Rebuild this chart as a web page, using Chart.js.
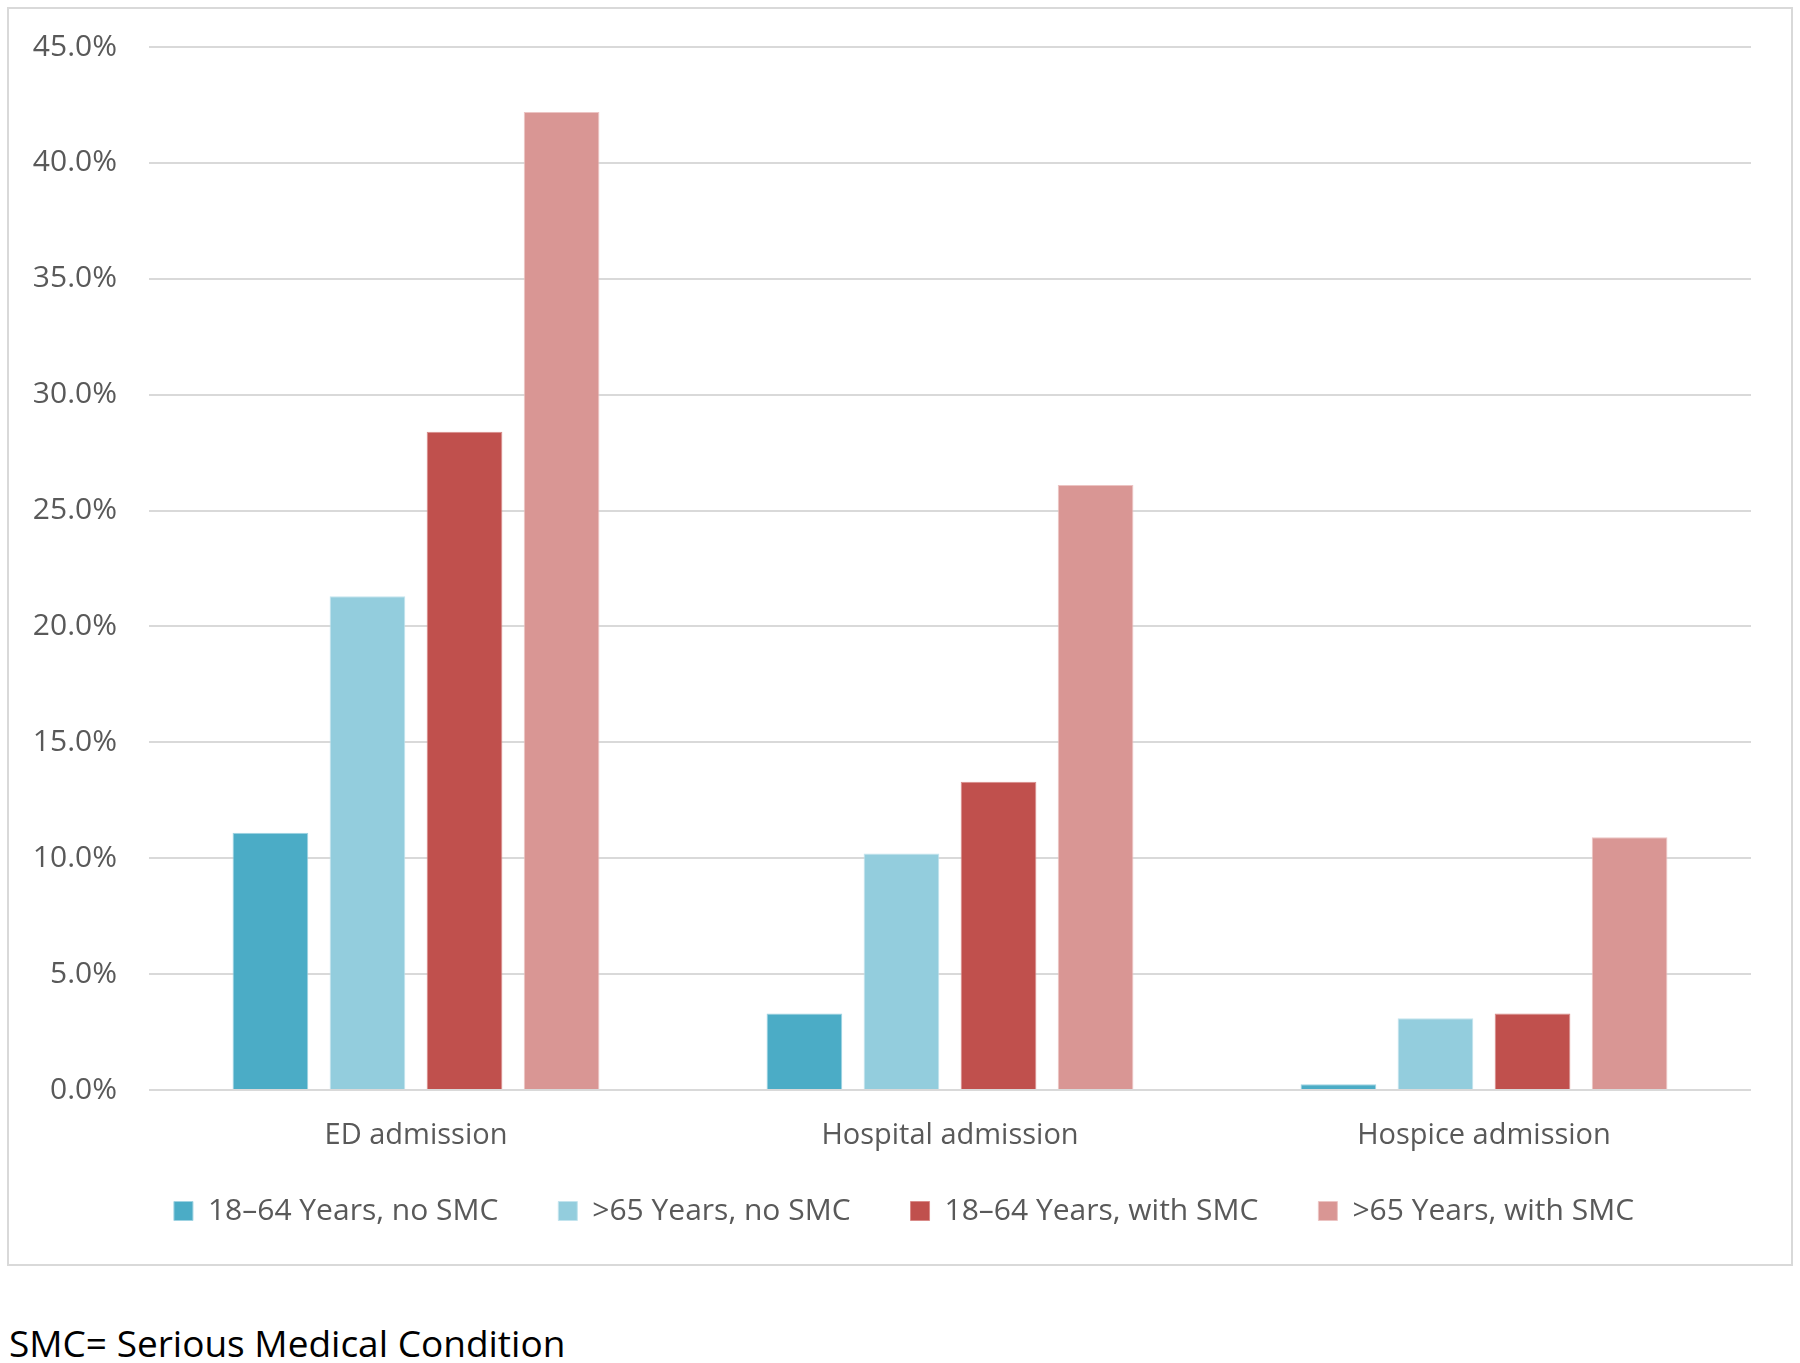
<!DOCTYPE html>
<html>
  <head>
    <title>Admissions by age and SMC</title>
    <script src="https://cdn.jsdelivr.net/npm/chart.js"></script>
    <style>
      body { margin: 0; background: #fff; }
      .chartbox {
        position: absolute; left: 7px; top: 7px;
        width: 1786px; height: 1259px;
        box-sizing: border-box;
        border: 2px solid #d9d9d9;
      }
      .note {
        position: absolute; left: 9px; top: 1317px;
        font-family: "Open Sans", sans-serif; font-size: 37px; color: #000;
      }
    </style>
  </head>
  <body>
    <div class="chartbox">
      <canvas id="myChart" width="1782" height="1255"></canvas>
    </div>
    <div class="note">SMC= Serious Medical Condition</div>
  </body>
</html>
<script>
//------------------------------------------------------------------------------
// data
//------------------------------------------------------------------------------
var categories = ['ED admission', 'Hospital admission', 'Hospice admission'];
var young_noSMC = [11.1, 3.3, 0.25];
var old_noSMC   = [21.3, 10.2, 3.1];
var young_SMC   = [28.4, 13.3, 3.3];
var old_SMC     = [42.2, 26.1, 10.9];

var seriesNames = ['18\u201364 Years, no SMC', '>65 Years, no SMC', '18\u201364 Years, with SMC', '>65 Years, with SMC'];

//------------------------------------------------------------------------------
// chart
//------------------------------------------------------------------------------
var fontFamily = '"Open Sans", sans-serif';
var ctx = document.getElementById('myChart').getContext('2d');

function makeSet(name, values, fill, edge) {
  return {
    label: name,
    data: values,
    backgroundColor: fill,
    borderColor: edge,
    borderWidth: 1,
    barPercentage: 0.78,
    categoryPercentage: 0.727
  };
}

// legend sits a bit right of centre and closer to the axis in the original
var legendShift = {
  id: 'legendShift',
  afterLayout: function(c) {
    c.legend.left += 24;
    c.legend.right += 24;
    c.legend.top -= 24;
    c.legend.bottom -= 24;
  }
};

var chart = new Chart(ctx, {
  type: 'bar',
  data: {
    labels: categories,
    datasets: [
      makeSet(seriesNames[0], young_noSMC, '#4BACC6', '#9fd3e2'),
      makeSet(seriesNames[1], old_noSMC, '#93CDDD', '#c3e4ee'),
      makeSet(seriesNames[2], young_SMC, '#C0504D', '#d98b89'),
      makeSet(seriesNames[3], old_SMC, '#D99694', '#ecc4c3')
    ]
  },
  plugins: [legendShift],
  options: {
    responsive: false,
    animation: false,
    layout: { padding: { left: 0, right: 40, top: 38, bottom: 4 } },
    plugins: {
      tooltip: { enabled: false },
      legend: {
        position: 'bottom',
        labels: {
          boxWidth: 19,
          boxHeight: 19,
          padding: 60,
          color: '#595959',
          font: { family: fontFamily, size: 30 }
        }
      }
    },
    scales: {
      x: {
        grid: { display: false },
        border: { display: false },
        ticks: { color: '#595959', padding: 20, font: { family: fontFamily, size: 29 } },
        afterFit: function(scale) { scale.height = 70; }
      },
      y: {
        min: 0,
        max: 45,
        afterFit: function(scale) { scale.width = 140; },
        border: { display: false },
        grid: { color: '#d9d9d9', lineWidth: 2, tickLength: 30, tickColor: 'rgba(0,0,0,0)' },
        ticks: {
          stepSize: 5,
          padding: 2,
          color: '#595959',
          font: { family: fontFamily, size: 30 },
          callback: function(v) { return v.toFixed(1) + '%'; }
        }
      }
    }
  }
});
</script>
